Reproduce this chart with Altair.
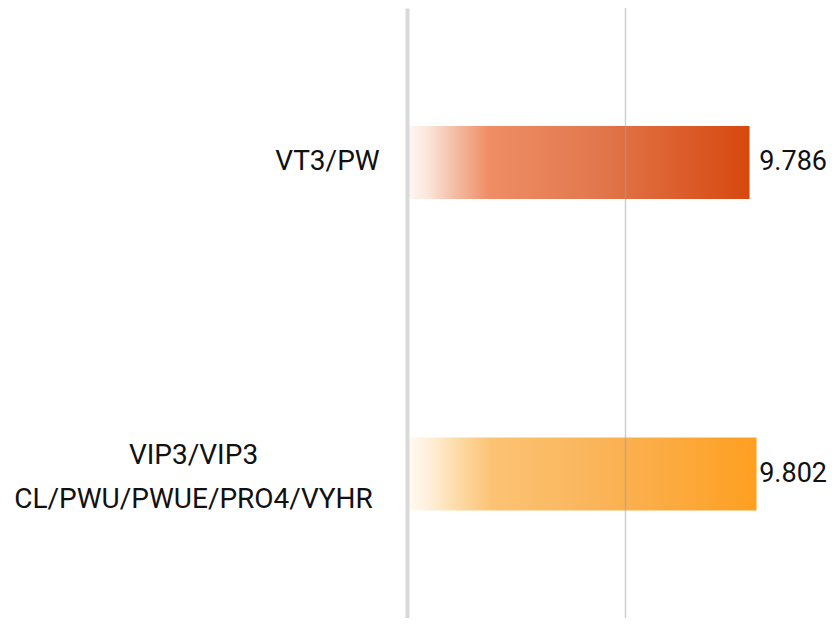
import altair as alt
import pandas as pd

categories = ["VT3/PW", "VIP3/VIP3 CL/PWU/PWUE/PRO4/VYHR"]
values = [9.786, 9.802]
axis_min = 9.0
axis_max = 9.966
grid_values = [9.5]

df = pd.DataFrame({"cat": categories, "val": values, "base": [axis_min] * len(categories)})

grad_red = {
    "gradient": "linear", "x1": 0, "x2": 1, "y1": 0, "y2": 0,
    "stops": [
        {"offset": 0.0, "color": "#fff8f5"},
        {"offset": 0.06, "color": "#fbe6dc"},
        {"offset": 0.14, "color": "#f3bda4"},
        {"offset": 0.24, "color": "#ef8d65"},
        {"offset": 0.55, "color": "#e2784e"},
        {"offset": 1.0, "color": "#d7480f"},
    ],
}
grad_orange = {
    "gradient": "linear", "x1": 0, "x2": 1, "y1": 0, "y2": 0,
    "stops": [
        {"offset": 0.0, "color": "#fffaf3"},
        {"offset": 0.06, "color": "#fff0dc"},
        {"offset": 0.14, "color": "#fddcaa"},
        {"offset": 0.24, "color": "#fcc374"},
        {"offset": 0.55, "color": "#fab459"},
        {"offset": 1.0, "color": "#fe9f20"},
    ],
}

x_enc = alt.X(
    "val:Q",
    scale=alt.Scale(domain=[axis_min, axis_max], zero=False, nice=False),
    axis=alt.Axis(title=None, labels=False, ticks=False, domain=False, values=grid_values,
                  grid=True, gridColor="#a0a0a0", gridOpacity=0.5, gridWidth=1.5, zindex=1),
)
y_enc = alt.Y(
    "cat:N",
    sort=categories,
    scale=alt.Scale(paddingInner=0.7657, paddingOuter=0.3788, range=[0, 620.5]),
    axis=alt.Axis(
        title=None, ticks=False, grid=False, domain=True, domainColor="#d9d9d9", domainWidth=4,
        labelExpr="split(datum.label, ' ')", labelAlign="center", labelBaseline="middle",
        labelPadding={"condition": {"test": "datum.value == 'VT3/PW'", "value": 80}, "value": 214},
        labelOffset={"condition": {"test": "datum.value == 'VT3/PW'", "value": 0}, "value": -18},
        labelFont="Roboto", labelFontSize=28, labelColor="#111111", labelLineHeight=44,
        labelLimit=500, zindex=1,
    ),
)

base = alt.Chart(df)
bar1 = base.transform_filter(alt.datum.cat == categories[0]).mark_bar(color=grad_red).encode(
    x=x_enc, x2="base:Q", y=y_enc)
bar2 = base.transform_filter(alt.datum.cat == categories[1]).mark_bar(color=grad_orange).encode(
    x=x_enc, x2="base:Q", y=y_enc)
text = base.mark_text(align="right", baseline="middle", dx=-1, font="Roboto", fontSize=27,
                      color="#111111").encode(
    x=alt.datum(axis_max), y=y_enc, text=alt.Text("val:Q", format=".3f"))

chart = alt.layer(bar1, bar2, text).properties(
    width=421, height=610,
    padding={"left": 399, "top": 0, "right": 0, "bottom": 0},
    autosize=alt.AutoSizeParams(type="none"),
).configure_view(stroke=None)

chart.save("out.html", embed_options={"renderer": "svg", "actions": False})
